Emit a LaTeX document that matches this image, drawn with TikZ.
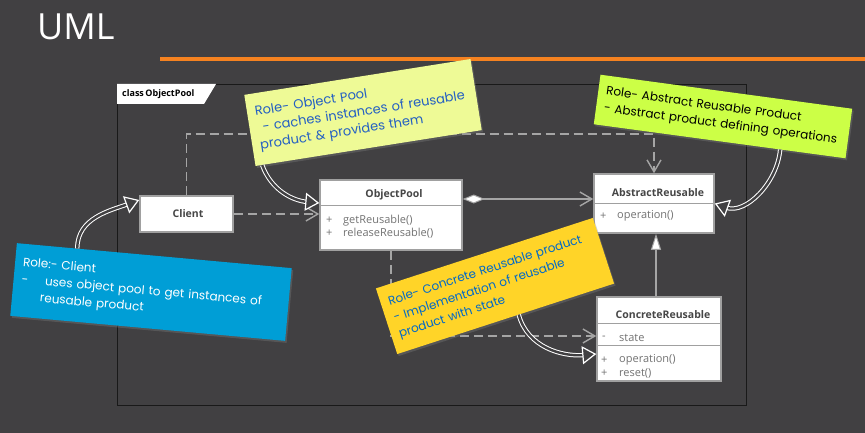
\documentclass[tikz,border=0pt]{standalone}
\usepackage{fontspec}
\setmainfont{Open Sans}
\newfontfamily\notefont{Poppins}
\usetikzlibrary{arrows.meta,calc,shadows}
\definecolor{bg}{RGB}{65,64,66}
\definecolor{orng}{RGB}{245,130,32}
\definecolor{conn}{RGB}{165,165,165}
\definecolor{boxline}{RGB}{160,160,160}
\definecolor{titletxt}{RGB}{70,70,70}
\definecolor{membtxt}{RGB}{115,115,115}
\definecolor{framecol}{RGB}{25,25,25}
\definecolor{notelime}{RGB}{238,250,150}
\definecolor{notegreen}{RGB}{204,255,70}
\definecolor{noteblue}{RGB}{0,158,214}
\definecolor{noteyellow}{RGB}{255,212,40}
\definecolor{penblue}{RGB}{35,95,195}
\definecolor{penblue2}{RGB}{0,105,200}
\newcommand{\notelink}[3]{%
  \draw[noteshaft] #1 to[#2] #3;
  \draw[notehead] #1 to[#2] #3;}
\begin{document}
\begin{tikzpicture}[x=1pt,y=1pt,
  classbox/.style={draw=boxline, line width=1.5pt, fill=white, inner sep=0pt},
  ctitle/.style={font=\bfseries\fontsize{10.5}{12}\selectfont, text=titletxt, inner sep=0pt},
  cmember/.style={font=\fontsize{11}{12}\selectfont, text=membtxt, inner sep=0pt, anchor=west},
  divider/.style={draw=boxline, line width=1pt},
  dep/.style={draw=conn, line width=1.6pt, dash pattern=on 9pt off 5pt,
    -{Straight Barb[length=12pt,width=14pt,line width=1.4pt]}},
  agg/.style={draw=conn, line width=1.6pt,
    {Diamond[fill=white,length=22pt,width=9pt,line width=1pt]}-{Straight Barb[length=12pt,width=14pt,line width=1.4pt]}},
  gen/.style={draw=conn, line width=1.6pt, -{Triangle[fill=white,length=16pt,width=10pt,line width=1pt]}},
  note/.style={inner sep=8pt, align=left, font=\notefont\fontsize{12}{17}\selectfont,
    drop shadow={shadow xshift=1.5pt,shadow yshift=-2pt,opacity=0.35}},
  noteshaft/.style={draw=white, line width=1pt, double=bg, double distance=2.4pt, shorten >=12pt},
  notehead/.style={draw=white, line width=1.2pt, dash pattern=on 0pt off 3000pt,
    -{Triangle[fill=bg,length=14pt,width=18pt,line width=1.2pt]}}
]
\useasboundingbox (0,0) rectangle (865,-433);
\fill[bg] (0,0) rectangle (865,-433);

% title and rule
\node[font=\fontsize{36}{40}\selectfont, text=white, anchor=base west, inner sep=0pt] (title) at (37,-40) {UML};
\draw[orng, line width=3.5pt] (160,-59) -- (865,-59);

% frame
\draw[framecol, line width=0.8pt] (117,-84) rectangle (746,-405);
\fill[white] (117,-84) -- (216,-84) -- (204,-104) -- (117,-104) -- cycle;
\node[font=\bfseries\fontsize{9}{10}\selectfont, text=black, anchor=west, inner sep=0pt] (frametab) at (122,-94.5) {class\,ObjectPool};

% classes
\node[classbox, minimum width=93pt, minimum height=36pt] (client) at (186.5,-214) {};
\node[ctitle] (clientT) at (188,-214) {Client};

\node[classbox, minimum width=142pt, minimum height=70pt] (op) at (391,-215) {};
\node[ctitle] (opT) at (394,-195) {ObjectPool};
\draw[divider] ($(op.north west)+(0,-26)$) -- ($(op.north east)+(0,-26)$);
\node[cmember] (opP1) at (326,-220.5) {+};
\node[cmember] (opM1) at (343,-220.5) {getReusable()};
\node[cmember] (opP2) at (326,-233.5) {+};
\node[cmember] (opM2) at (343,-233.5) {releaseReusable()};

\node[classbox, minimum width=120pt, minimum height=59pt] (abs) at (654,-203.5) {};
\node[ctitle] (absT) at (658,-192.5) {AbstractReusable};
\draw[divider] ($(abs.north west)+(0,-30)$) -- ($(abs.north east)+(0,-30)$);
\node[cmember] (absP1) at (600,-216) {+};
\node[cmember] (absM1) at (617,-216) {operation()};

\node[classbox, minimum width=124pt, minimum height=84pt] (conc) at (659,-339) {};
\node[ctitle] (concT) at (663,-315) {ConcreteReusable};
\draw[divider] ($(conc.north west)+(0,-27)$) -- ($(conc.north east)+(0,-27)$);
\draw[divider] ($(conc.north west)+(0,-49)$) -- ($(conc.north east)+(0,-49)$);
\node[cmember] (concP1) at (602,-337.5) {-};
\node[cmember] (concM1) at (619,-337.5) {state};
\node[cmember] (concP2) at (601,-360) {+};
\node[cmember] (concM2) at (619,-360) {operation()};
\node[cmember] (concP3) at (601,-373) {+};
\node[cmember] (concM3) at (619,-373) {reset()};

% relations
\draw[agg] ([yshift=16pt]op.east) -- ([yshift=16pt]op.east -| abs.west);
\draw[dep] (client.east) -- (client.east -| op.west);
\draw[dep] (client.north) -- ++(0,61) -| (abs.north);
\draw[dep] (op.south) |- ([yshift=3pt]conc.west);
\draw[gen] (conc.north -| 656,0) -- (abs.south -| 656,0);

% notes
\node[note, fill=notelime, text=penblue, rotate=9, minimum width=229pt, minimum height=72pt, text width=213pt,
  font=\notefont\fontsize{13}{17}\selectfont] (opn) at (363,-112.5)
  {Role- Object Pool\\\hspace{5pt}- caches instances of reusable\\product \& provides them};
\node[note, fill=notegreen, text=black, rotate=-7.7, minimum width=254pt, minimum height=50pt, text width=238pt] (agn) at (723,-116.5)
  {Role- Abstract Reusable Product\\- Abstract product defining operations};
\node[note, fill=noteblue, text=white, rotate=-5.2, minimum width=276pt, minimum height=73pt, text width=260pt] (cln) at (151,-292)
  {Role:- Client\\-\hspace{17pt}uses object pool to get instances of\\\hspace{20pt}reusable product};
\node[note, fill=noteyellow, text=penblue2, rotate=18, minimum width=228pt, minimum height=69pt, text width=212pt] (crn) at (495,-286)
  {Role- Concrete Reusable product\\- Implementation of reusable\\product with state};

% note pointers
\notelink{($(opn.south west)!0.03!(opn.south east)$)}{out=-70,in=175}{([yshift=12pt]op.west)}
\notelink{($(agn.south west)!0.74!(agn.south east)$)}{out=-95,in=-20}{(abs.east)}
\notelink{($(cln.north west)!0.22!(cln.north east)$)}{out=90,in=200}{([yshift=14pt]client.west)}
\notelink{($(crn.south west)!0.56!(crn.south east)$)}{out=-75,in=185}{([yshift=-15pt]conc.west)}
\end{tikzpicture}
\end{document}
